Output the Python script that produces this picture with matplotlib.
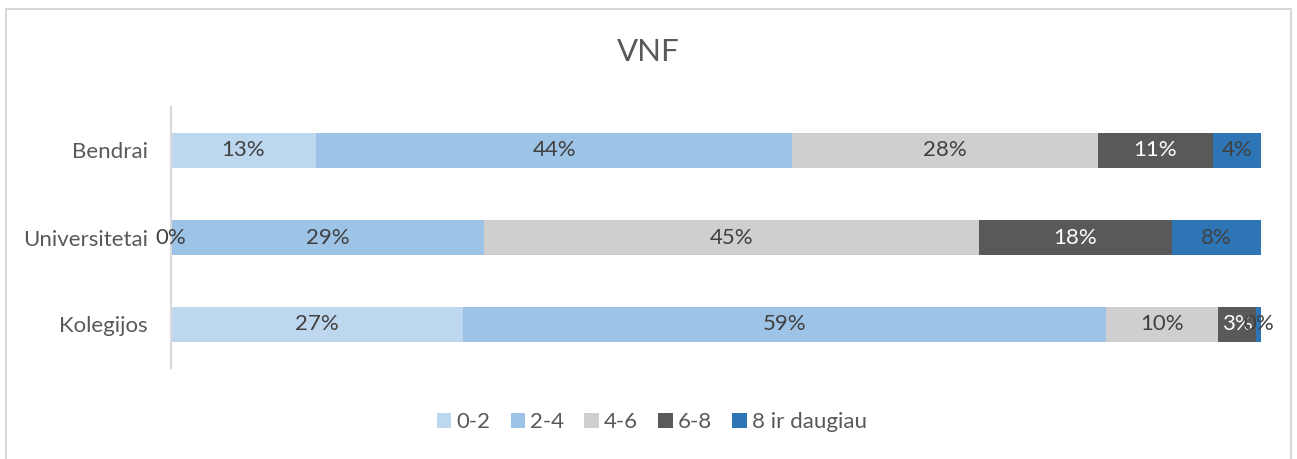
import numpy as np
import matplotlib.pyplot as plt
from matplotlib.patches import Rectangle

plt.rcParams['font.family'] = ['Lato', 'DejaVu Sans']

# duomenys (procentais)
kategorijos = ["Kolegijos", "Universitetai", "Bendrai"]
grupes = ["0-2", "2-4", "4-6", "6-8", "8 ir daugiau"]
v_0_2 = [26.8, 0.0, 13.3]
v_2_4 = [59.0, 28.7, 43.7]
v_4_6 = [10.3, 45.4, 28.0]
v_6_8 = [3.4, 17.7, 10.6]
v_8_plus = [0.5, 8.2, 4.4]

spalvos = ["#BDD7EE", "#9DC3E6", "#D0CECE", "#595959", "#2E75B6"]
etiketes_spalvos = ["#404040", "#404040", "#404040", "#FFFFFF", "#404040"]
teksto_spalva = "#595959"
fs = 16

fig = plt.figure(figsize=(12.97, 4.59), dpi=100)
fig.patches.append(Rectangle((5.5 / 1297, -0.05), (1291 - 5.5) / 1297, 1.05 - 9 / 459,
                             transform=fig.transFigure, fill=False,
                             edgecolor="#D9D9D9", linewidth=1.5))

ax = fig.add_axes([171 / 1297, 1 - 368 / 459, 1090 / 1297, 261 / 459])

y = np.arange(len(kategorijos))
kaire = np.zeros(len(kategorijos))
for reiksmes, pav, sp, esp in zip([v_0_2, v_2_4, v_4_6, v_6_8, v_8_plus], grupes, spalvos, etiketes_spalvos):
    reiksmes = np.array(reiksmes)
    ax.barh(y, reiksmes, left=kaire, height=0.4, color=sp, label=pav)
    for yi, l, w in zip(y, kaire, reiksmes):
        ax.text(l + w / 2, yi, f"{w:.0f}%", ha="center", va="center",
                fontsize=fs, color=esp)
    kaire += reiksmes

ax.set_xlim(0, 100)
ax.set_ylim(-0.5, 2.5)
ax.set_yticks(y)
ax.set_yticklabels(kategorijos, fontsize=fs, color=teksto_spalva)
ax.tick_params(axis="y", length=0, pad=16.5)
ax.set_xticks([])
for s in ["top", "right", "bottom"]:
    ax.spines[s].set_visible(False)
ax.spines["left"].set_color("#D9D9D9")
ax.spines["left"].set_linewidth(1.5)

fig.text(648 / 1297, 1 - 52 / 459, "VNF", ha="center", va="center",
         fontsize=22.5, color=teksto_spalva)

fig.legend(loc="center", bbox_to_anchor=(652 / 1297, 1 - 422 / 459), ncol=5,
           frameon=False, fontsize=fs, handlelength=0.64, handleheight=0.64,
           handletextpad=0.25, columnspacing=0.9, labelcolor=teksto_spalva)

fig.savefig("out.png", dpi=100)
